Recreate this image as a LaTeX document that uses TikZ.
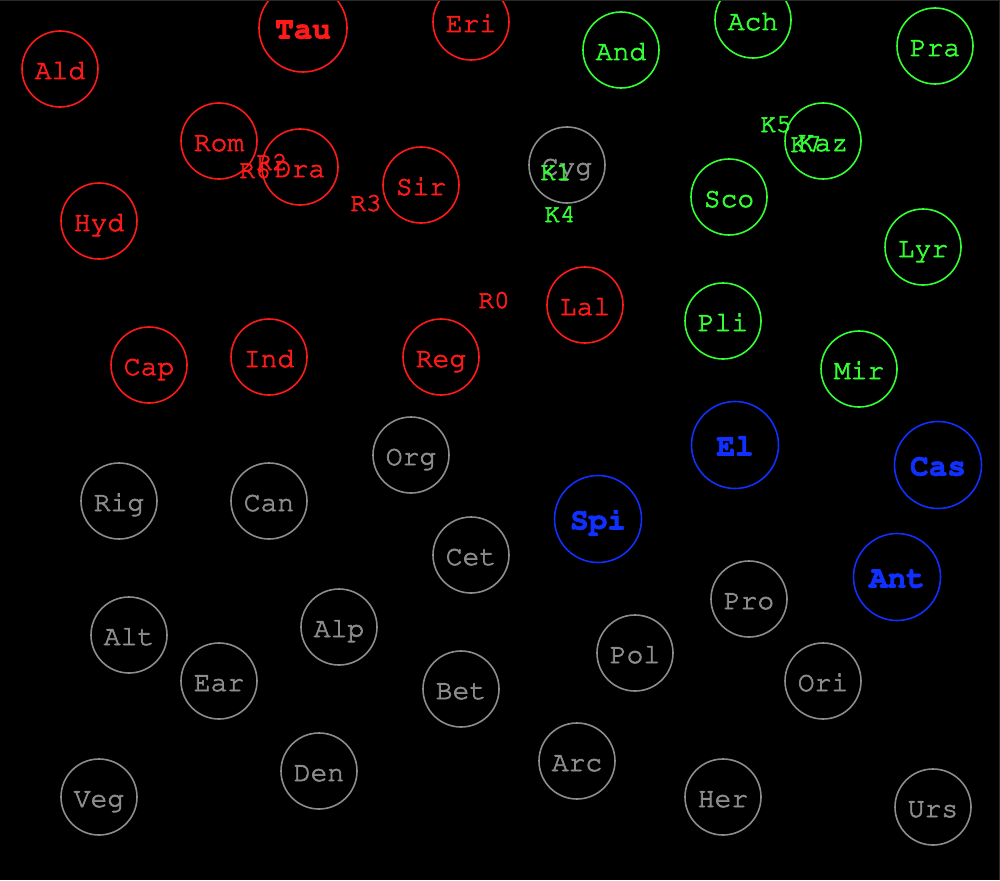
\documentclass[tikz,border=0pt]{standalone}
\usepackage[T1]{fontenc}
\usepackage{courier}
\definecolor{cred}{HTML}{FF1A1A}
\definecolor{cgreen}{HTML}{33FF33}
\definecolor{cgray}{HTML}{8C8C8C}
\definecolor{cblue}{HTML}{1030FF}
\definecolor{cedge}{HTML}{2A2A2A}
\tikzset{
  star/.style={circle, draw, line width=1.6pt, minimum size=76pt, inner sep=0pt,
    font=\ttfamily\fontsize{28}{28}\selectfont, text height=20pt, text depth=0pt,
    execute at begin node=\special{pdf:literal direct 2 Tr 0.7 w},
    execute at end node=\special{pdf:literal direct 0 Tr}},
  big/.style={star, minimum size=87pt, font=\ttfamily\bfseries\fontsize{31}{31}\selectfont, text height=21pt},
  rs/.style={star, draw=cred, text=cred},
  gs/.style={star, draw=cgreen, text=cgreen},
  ys/.style={star, draw=cgray, text=cgray},
  bs/.style={big, draw=cblue, text=cblue},
  lab/.style={inner sep=0pt, font=\ttfamily\fontsize{26}{26}\selectfont, text height=14pt, text depth=0pt,
    execute at begin node=\special{pdf:literal direct 2 Tr 0.7 w},
    execute at end node=\special{pdf:literal direct 0 Tr}},
}
\begin{document}
\begin{tikzpicture}[x=1pt,y=-1pt]
\useasboundingbox (0,0) rectangle (1000,880);
\fill[black] (0,0) rectangle (1000,880);
\clip (0,0) rectangle (1000,880);
% red
\node[rs] (Ald) at (60,69) {Ald};
\node[rs, big, draw=cred, text=cred, minimum size=88pt] (Tau) at (303,28) {Tau};
\node[rs] (Eri) at (471,22) {Eri};
\node[rs] (Rom) at (219,141) {Rom};
\node[rs] (Dra) at (300,167) {Dra};
\node[rs] (Sir) at (421,185) {Sir};
\node[rs] (Hyd) at (99,221) {Hyd};
\node[rs] (Cap) at (149,365) {Cap};
\node[rs] (Ind) at (269,357) {Ind};
\node[rs] (Reg) at (441,357) {Reg};
\node[rs] (Lal) at (585,305) {Lal};
% green
\node[gs] (And) at (621,50) {And};
\node[gs] (Ach) at (753,20) {Ach};
\node[gs] (Pra) at (935,46) {Pra};
\node[gs] (Kaz) at (823,141) {Kaz};
\node[gs] (Sco) at (729,197) {Sco};
\node[gs] (Lyr) at (923,247) {Lyr};
\node[gs] (Pli) at (723,321) {Pli};
\node[gs] (Mir) at (859,369) {Mir};
% blue
\node[bs] (El) at (735,445) {El};
\node[bs] (Cas) at (938,465) {Cas};
\node[bs] (Spi) at (598,519) {Spi};
\node[bs] (Ant) at (897,577) {Ant};
% gray
\node[ys] (Cyg) at (567,165) {Cyg};
\node[ys] (Org) at (411,455) {Org};
\node[ys] (Rig) at (119,501) {Rig};
\node[ys] (Can) at (269,501) {Can};
\node[ys] (Cet) at (471,555) {Cet};
\node[ys] (Alt) at (129,635) {Alt};
\node[ys] (Alp) at (339,627) {Alp};
\node[ys] (Ear) at (219,681) {Ear};
\node[ys] (Bet) at (461,689) {Bet};
\node[ys] (Pol) at (635,653) {Pol};
\node[ys] (Pro) at (749,599) {Pro};
\node[ys] (Ori) at (823,681) {Ori};
\node[ys] (Arc) at (577,761) {Arc};
\node[ys] (Veg) at (99,797) {Veg};
\node[ys] (Den) at (319,771) {Den};
\node[ys] (Her) at (723,797) {Her};
\node[ys] (Urs) at (933,807) {Urs};
% free labels
\node[lab, text=cred] (R6) at (255,171) {R6};
\node[lab, text=cred] (R2) at (272,163) {R2};
\node[lab, text=cred] (R3) at (366,204) {R3};
\node[lab, text=cred] (R0) at (494,301) {R0};
\node[lab, text=cgreen] (K5) at (776,125) {K5};
\node[lab, text=cgreen] (K7) at (806,145) {K7};
\node[lab, text=cgreen] (K1) at (556,173) {K1};
\node[lab, text=cgreen] (K4) at (560,215) {K4};
% frame edges
\draw[cedge, line width=2pt] (0,0) -- (1000,0) -- (1000,880);
\end{tikzpicture}
\end{document}
